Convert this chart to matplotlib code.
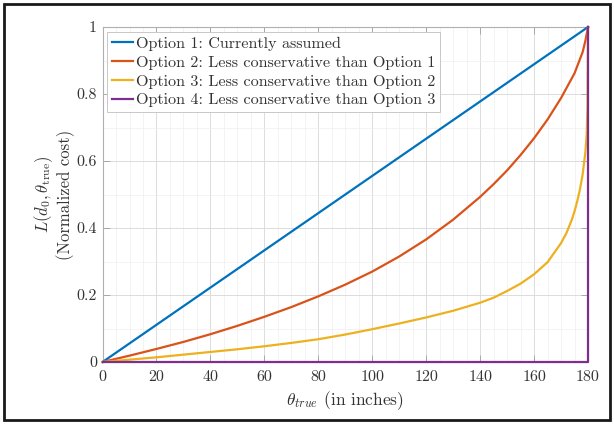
import matplotlib
matplotlib.use("Agg")
import matplotlib.pyplot as plt
from matplotlib.patches import Rectangle

#==============================================
# DATA
#==============================================

theta_opt1=[0,180]
loss_opt1=[0,1]

theta_opt2=[0,10,20,30,40,50,60,70,80,90,100,110,120,130,140,145,150,155,160,165,170,175,178,179,180]
loss_opt2=[0,0.019,0.039,0.060,0.083,0.108,0.135,0.164,0.196,0.231,0.270,0.315,0.366,0.425,0.493,0.531,0.572,0.618,0.668,0.724,0.788,0.862,0.925,0.958,1.0]

theta_opt3=[0,10,20,30,40,50,60,70,80,90,100,110,120,130,140,145,150,155,160,165,170,172,174,175,176,177,178,179,179.5,179.8,180]
loss_opt3=[0,0.007,0.014,0.022,0.030,0.038,0.047,0.057,0.068,0.082,0.098,0.115,0.133,0.153,0.177,0.192,0.212,0.234,0.262,0.298,0.355,0.385,0.425,0.45,0.48,0.515,0.56,0.625,0.68,0.76,1.0]

theta_opt4=[0,180,180]
loss_opt4=[0,0,1]

labels=["Option 1: Currently assumed",
        "Option 2: Less conservative than Option 1",
        "Option 3: Less conservative than Option 2",
        "Option 4: Less conservative than Option 3"]
colors=["#0072BD","#D95319","#EDB120","#7E2F8E"]

x_ticks=[0,20,40,60,80,100,120,140,160,180]
y_ticks=[0,0.2,0.4,0.6,0.8,1]
y_tick_labels=["0","0.2","0.4","0.6","0.8","1"]

#==============================================
# STYLE
#==============================================

plt.rcParams["font.family"]=["cmr10","DejaVu Serif"]
plt.rcParams["mathtext.fontset"]="cm"
plt.rcParams["axes.formatter.use_mathtext"]=True
plt.rcParams["font.size"]=11

#==============================================
# PLOT
#==============================================

fig=plt.figure(figsize=(6.14,4.24),dpi=100)
ax=fig.add_axes([0.167,0.1462,0.7907,0.7901])

series=[(theta_opt1,loss_opt1),(theta_opt2,loss_opt2),(theta_opt3,loss_opt3),(theta_opt4,loss_opt4)]
for (xs,ys),lab,col in zip(series,labels,colors):
    ax.plot(xs,ys,color=col,lw=1.6,label=lab,clip_on=False,zorder=3)

ax.set_xlim(0,180)
ax.set_ylim(0,1)
ax.set_xticks(x_ticks)
ax.set_xticklabels([str(t) for t in x_ticks])
ax.set_yticks(y_ticks)
ax.set_yticklabels(y_tick_labels)
ax.set_xticks(range(0,181,5),minor=True)
ax.set_yticks([i/10 for i in range(11)],minor=True)

ax.grid(which="major",color="#dcdcdc",lw=0.7)
ax.grid(which="minor",color="#efefef",lw=0.5)
ax.set_axisbelow(True)
ax.tick_params(which="major",direction="in",length=5,width=0.6,color="#a0a0a0",
               top=True,right=True,labelsize=11.5,labelcolor="#333333")
ax.tick_params(axis="x",which="major",pad=6)
ax.tick_params(axis="y",which="major",pad=4)
ax.tick_params(which="minor",length=0)
for sp in ax.spines.values():
    sp.set_color("#b0b0b0")
    sp.set_linewidth(0.8)

ax.set_xlabel(r"$\theta_{true}$ (in inches)",fontsize=12.5,color="#333333",labelpad=4)
ax.set_ylabel("$L(d_0,\\theta_{\\mathrm{true}})$\n(Normalized cost)",fontsize=12,color="#333333",
              labelpad=1,linespacing=1.1)

leg=ax.legend(loc="upper left",fancybox=False,framealpha=1,edgecolor="#c8c8c8",
              handlelength=1.3,handletextpad=0.15,borderpad=0.3,labelspacing=0.28,
              borderaxespad=0.3,fontsize=11.6)
for t in leg.get_texts():
    t.set_color("#333333")
leg.get_frame().set_linewidth(0.7)

fig.patches.append(Rectangle((4/614,4/424),606/614,416/424,transform=fig.transFigure,
                             fill=False,edgecolor="#1a1a1a",lw=2))

fig.savefig("out.png",dpi=100)
